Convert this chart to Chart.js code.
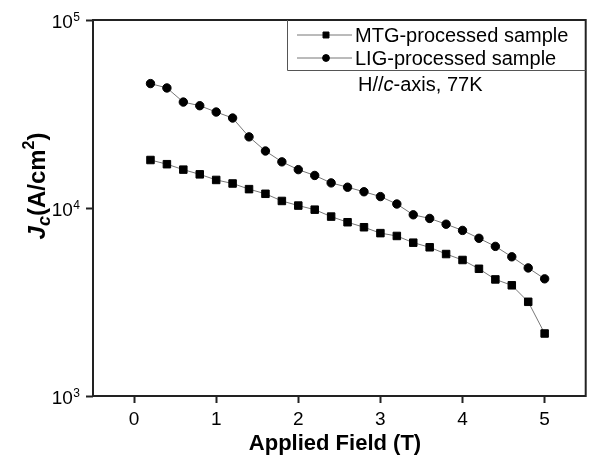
<!DOCTYPE html>
<html>
<head>
<meta charset="utf-8">
<script src="https://cdn.jsdelivr.net/npm/chart.js@4.4.0/dist/chart.umd.min.js"></script>
<style>
    html, body { margin: 0; padding: 0; background: #fff; }
    #caixa { width: 592px; height: 457px; }
</style>
</head>
<body>
<div id="caixa"><canvas id="myChart" width="592" height="457"></canvas></div>
<script>
// campo aplicado (T)
const campo = [0.2, 0.4, 0.6, 0.8, 1.0, 1.2, 1.4, 1.6, 1.8, 2.0, 2.2, 2.4, 2.6, 2.8, 3.0, 3.2, 3.4, 3.6, 3.8, 4.0, 4.2, 4.4, 4.6, 4.8, 5.0];
// Jc (A/cm2)
const jcMTG = [18000, 17100, 16000, 15100, 14100, 13500, 12600, 11900, 10900, 10300, 9800, 9000, 8400, 7900, 7350, 7100, 6540, 6180, 5690, 5290, 4750, 4170, 3880, 3170, 2150];
const jcLIG = [45900, 43500, 36600, 35000, 32400, 30100, 23900, 20100, 17600, 16000, 14900, 13600, 12900, 12200, 11500, 10500, 9200, 8800, 8200, 7600, 6900, 6250, 5500, 4800, 4200];
const nomes = ['MTG-processed sample', 'LIG-processed sample'];
const ticksX = [0, 1, 2, 3, 4, 5];
const ticksY = [1000, 10000, 100000];

const FONTE = '"Liberation Sans", Arial, sans-serif';

function pontos(ys) {
    return campo.map(function (x, i) { return { x: x, y: ys[i] }; });
}

// desenha pedacos de texto com fontes diferentes em sequencia
function textoMisto(ctx, partes, x, y, alinhar) {
    let total = 0;
    partes.forEach(function (p) { ctx.font = p.font; p.w = ctx.measureText(p.t).width; total += p.w; });
    let cx = x;
    if (alinhar === 'center') cx = x - total / 2;
    ctx.textAlign = 'left';
    ctx.textBaseline = 'alphabetic';
    partes.forEach(function (p) {
        ctx.font = p.font;
        ctx.fillText(p.t, cx, y + (p.dy || 0));
        cx += p.w;
    });
}

const extras = {
    id: 'extras',
    afterDraw: function (chart) {
        const ctx = chart.ctx;
        const a = chart.chartArea;
        const sx = chart.scales.x;
        const sy = chart.scales.y;
        ctx.save();
        ctx.fillStyle = '#000';

        // moldura
        ctx.strokeStyle = '#222';
        ctx.lineWidth = 2;
        ctx.strokeRect(a.left, a.top, a.right - a.left, a.bottom - a.top);

        // caixa da legenda
        ctx.strokeStyle = '#555';
        ctx.lineWidth = 1;
        ctx.beginPath();
        ctx.moveTo(287.5, a.top);
        ctx.lineTo(287.5, 70.5);
        ctx.lineTo(a.right, 70.5);
        ctx.stroke();

        // itens da legenda
        const linhasY = [35, 58];
        chart.data.datasets.forEach(function (ds, i) {
            const ly = linhasY[i];
            ctx.strokeStyle = '#777';
            ctx.lineWidth = 1;
            ctx.beginPath();
            ctx.moveTo(297, ly);
            ctx.lineTo(352, ly);
            ctx.stroke();
            ctx.fillStyle = '#000';
            ctx.strokeStyle = '#000';
            Chart.helpers.drawPoint(ctx, {
                pointStyle: ds.pointStyle,
                radius: ds.pointStyle === 'rect' ? 4.2 : 3.4,
                borderWidth: 1
            }, 326, ly);
            ctx.font = '20px ' + FONTE;
            ctx.textAlign = 'left';
            ctx.textBaseline = 'alphabetic';
            ctx.fillText(ds.label, 355, ly + 7);
        });

        // anotacao
        ctx.fillStyle = '#000';
        textoMisto(ctx, [
            { t: 'H//', font: '20px ' + FONTE },
            { t: 'c', font: 'italic 20px ' + FONTE },
            { t: '-axis, 77K', font: '20px ' + FONTE }
        ], 358, 90.5, 'left');

        // rotulos do eixo y (10^n)
        sy.ticks.forEach(function (t) {
            const py = sy.getPixelForValue(t.value);
            const exp = String(Math.round(Math.log10(t.value)));
            ctx.font = '12px ' + FONTE;
            ctx.textAlign = 'right';
            ctx.textBaseline = 'alphabetic';
            const wExp = ctx.measureText(exp).width;
            ctx.fillText(exp, 80, py + 0.5);
            ctx.font = '19px ' + FONTE;
            ctx.fillText('10', 80 - wExp - 0.5, py + 8.3);
        });

        // rotulos do eixo x
        ctx.font = '19px ' + FONTE;
        ctx.textAlign = 'center';
        ctx.textBaseline = 'alphabetic';
        sx.ticks.forEach(function (t) {
            ctx.fillText(String(t.value), sx.getPixelForValue(t.value), 425);
        });

        // titulo eixo x
        ctx.font = 'bold 22px ' + FONTE;
        ctx.fillText('Applied Field (T)', 335, 450);

        // titulo eixo y
        ctx.translate(45, 186);
        ctx.rotate(-Math.PI / 2);
        textoMisto(ctx, [
            { t: 'J', font: 'italic bold 24px ' + FONTE },
            { t: 'c', font: 'italic bold 18px ' + FONTE, dy: 5 },
            { t: '(A/cm', font: 'bold 24px ' + FONTE },
            { t: '2', font: 'bold 16px ' + FONTE, dy: -11 },
            { t: ')', font: 'bold 24px ' + FONTE }
        ], 0, 0, 'center');

        ctx.restore();
    }
};

const dados = {
    datasets: [{
        label: nomes[0],
        data: pontos(jcMTG),
        showLine: true,
        borderColor: '#777',
        borderWidth: 1,
        pointStyle: 'rect',
        pointRadius: 5.3,
        pointBorderWidth: 1,
        pointBackgroundColor: '#000',
        pointBorderColor: '#000'
    }, {
        label: nomes[1],
        data: pontos(jcLIG),
        showLine: true,
        borderColor: '#777',
        borderWidth: 1,
        pointStyle: 'circle',
        pointRadius: 4.2,
        pointBorderWidth: 1,
        pointBackgroundColor: '#000',
        pointBorderColor: '#000'
    }]
};

const config = {
    type: 'scatter',
    data: dados,
    options: {
        responsive: false,
        animation: false,
        devicePixelRatio: 1,
        layout: { padding: { top: 20, right: 6, left: 0, bottom: 0 } },
        plugins: {
            legend: { display: false },
            tooltip: { enabled: false }
        },
        scales: {
            x: {
                type: 'linear',
                min: -0.5,
                max: 5.5,
                afterBuildTicks: function (scale) {
                    scale.ticks = ticksX.map(function (v) { return { value: v }; });
                },
                afterFit: function (scale) { scale.height = 61; },
                ticks: { display: false },
                grid: { drawOnChartArea: false, drawTicks: true, tickLength: 7, tickWidth: 2, tickColor: '#222' },
                border: { display: false }
            },
            y: {
                type: 'logarithmic',
                min: 1000,
                max: 100000,
                afterBuildTicks: function (scale) {
                    scale.ticks = ticksY.map(function (v) { return { value: v }; });
                },
                afterFit: function (scale) { scale.width = 93; },
                ticks: { display: false },
                grid: { drawOnChartArea: false, drawTicks: true, tickLength: 7, tickWidth: 2, tickColor: '#222' },
                border: { display: false }
            }
        }
    },
    plugins: [extras]
};

const ctx = document.getElementById('myChart');
myChart = new Chart(ctx, config);
</script>
</body>
</html>
